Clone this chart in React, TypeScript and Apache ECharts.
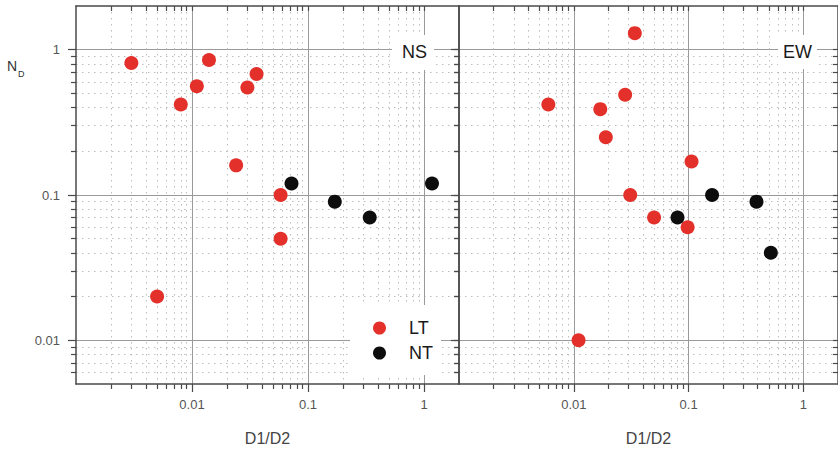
import React, { useEffect, useRef } from "react";
import * as echarts from "echarts";

// ---- data ----
const nsLT_x = [0.003, 0.008, 0.011, 0.014, 0.03, 0.036, 0.024, 0.058, 0.058, 0.005];
const nsLT_y = [0.81, 0.42, 0.56, 0.85, 0.55, 0.68, 0.16, 0.1, 0.05, 0.02];
const nsNT_x = [0.072, 0.17, 0.34, 1.17];
const nsNT_y = [0.12, 0.09, 0.07, 0.12];
const ewLT_x = [0.034, 0.006, 0.028, 0.017, 0.019, 0.106, 0.031, 0.05, 0.098, 0.011];
const ewLT_y = [1.3, 0.42, 0.49, 0.39, 0.25, 0.17, 0.1, 0.07, 0.06, 0.01];
const ewNT_x = [0.16, 0.39, 0.08, 0.52];
const ewNT_y = [0.1, 0.09, 0.07, 0.04];

const xTickLabels = [0.01, 0.1, 1];
const yTickLabels = [0.01, 0.1, 1];
const xDecades = [0.001, 0.01, 0.1];
const yDecades = [0.001, 0.01, 0.1];
const minorMultiples = [2, 3, 4, 5, 6, 7, 8, 9];
const X_MIN = 0.001, X_MAX = 2;
const Y_MIN = 0.005, Y_MAX = 2;
const panelNames = ["NS", "EW"];
const seriesNames = ["LT", "NT"];

const RED = "#e3302a";
const BLACK = "#0d0d0d";
const AXIS = "#4a4a4a";
const LABEL = "#555555";

function minorOf(decades: number[], lo: number, hi: number) {
  const out: number[] = [];
  decades.forEach((d) =>
    minorMultiples.forEach((m) => {
      const v = Number((m * d).toPrecision(3));
      if (v > lo && v < hi) out.push(v);
    })
  );
  return out;
}

const fmt = (v: number) => String(Number(v.toPrecision(3)));

export default function App() {
  const ref = useRef<HTMLDivElement>(null);
  useEffect(() => {
    if (!ref.current) return;
    const chart = echarts.init(ref.current, undefined, { renderer: "svg" });
    const minorX = minorOf(xDecades, X_MIN, X_MAX);
    const minorY = minorOf(yDecades, Y_MIN, Y_MAX);
    const grids = [
      { left: 76, top: 6, width: 383, height: 379 },
      { left: 459, top: 6, width: 383, height: 379 },
    ];
    const font = "Liberation Sans, Arial, sans-serif";
    const xAxes: any[] = [];
    const yAxes: any[] = [];
    grids.forEach((_, gi) => {
      const baseX = { type: "log", logBase: 10, min: X_MIN, max: X_MAX, gridIndex: gi };
      const baseY = { type: "log", logBase: 10, min: Y_MIN, max: Y_MAX, gridIndex: gi };
      // minor
      xAxes.push({
        ...baseX,
        position: "bottom",
        axisLine: { show: false },
        axisTick: { show: true, customValues: minorX, length: 5, lineStyle: { color: AXIS, width: 1.2 } },
        axisLabel: { show: false },
        splitLine: { show: true, lineStyle: { color: "#bdbdbd", width: 1, type: [1.5, 4.5] } },
      });
      // main
      xAxes.push({
        ...baseX,
        position: "bottom",
        name: "D1/D2",
        nameLocation: "middle",
        nameGap: 46,
        nameTextStyle: { color: "#444", fontSize: 16, fontFamily: font },
        axisLine: { show: true, lineStyle: { color: AXIS, width: 1.5 } },
        axisTick: { show: true, customValues: xTickLabels, length: 8, lineStyle: { color: AXIS, width: 1.2 } },
        axisLabel: {
          show: true,
          customValues: xTickLabels,
          formatter: fmt,
          margin: 14,
          color: LABEL,
          fontSize: 13,
          fontFamily: font,
        },
        splitLine: { show: true, lineStyle: { color: "#9a9a9a", width: 1 } },
      });
      // top frame
      xAxes.push({
        ...baseX,
        position: "top",
        axisLine: { show: true, lineStyle: { color: AXIS, width: 1.5 } },
        axisTick: { show: true, inside: true, customValues: minorX.concat(xTickLabels), length: 5, lineStyle: { color: AXIS, width: 1.2 } },
        axisLabel: { show: false },
        splitLine: { show: false },
      });
      yAxes.push({
        ...baseY,
        position: "left",
        axisLine: { show: false },
        axisTick: { show: true, customValues: minorY, length: 5, lineStyle: { color: AXIS, width: 1.2 } },
        axisLabel: { show: false },
        splitLine: { show: true, lineStyle: { color: "#bdbdbd", width: 1, type: [1.5, 4.5] } },
      });
      yAxes.push({
        ...baseY,
        position: "left",
        axisLine: { show: true, lineStyle: { color: AXIS, width: 1.5 } },
        axisTick: { show: true, customValues: yTickLabels, length: 8, lineStyle: { color: AXIS, width: 1.2 } },
        axisLabel: {
          show: gi === 0,
          customValues: yTickLabels,
          formatter: fmt,
          margin: 16,
          color: LABEL,
          fontSize: 13,
          fontFamily: font,
        },
        splitLine: { show: true, lineStyle: { color: "#9a9a9a", width: 1 } },
      });
      yAxes.push({
        ...baseY,
        position: "right",
        axisLine: { show: true, lineStyle: { color: AXIS, width: 1.5 } },
        axisTick: { show: true, inside: true, customValues: minorY.concat(yTickLabels), length: 5, lineStyle: { color: AXIS, width: 1.2 } },
        axisLabel: { show: false },
        splitLine: { show: false },
      });
    });

    const pairs = (xs: number[], ys: number[]) => xs.map((x, i) => [x, ys[i]]);
    const panelData = [
      [pairs(nsLT_x, nsLT_y), pairs(nsNT_x, nsNT_y)],
      [pairs(ewLT_x, ewLT_y), pairs(ewNT_x, ewNT_y)],
    ];
    const series: any[] = [];
    panelData.forEach((pd, gi) => {
      pd.forEach((d, si) => {
        series.push({
          type: "scatter",
          name: seriesNames[si],
          xAxisIndex: gi * 3 + 1,
          yAxisIndex: gi * 3 + 1,
          data: d,
          symbol: "circle",
          symbolSize: 14,
          itemStyle: { color: si === 0 ? RED : BLACK, opacity: 1 },
          emphasis: { disabled: true },
          z: 5,
        });
      });
    });

    chart.setOption({
      animation: false,
      backgroundColor: "#ffffff",
      grid: grids,
      xAxis: xAxes,
      yAxis: yAxes,
      series,
      title: [
        {
          text: panelNames[0],
          left: 392,
          top: 35,
          padding: [8, 7, 9, 10],
          backgroundColor: "#ffffff",
          textStyle: { fontSize: 18, fontWeight: "normal", color: "#1a1a1a", fontFamily: font },
        },
        {
          text: panelNames[1],
          left: 778,
          top: 35,
          padding: [8, 5, 8, 5],
          backgroundColor: "#ffffff",
          textStyle: { fontSize: 18, fontWeight: "normal", color: "#1a1a1a", fontFamily: font },
        },
      ],
      legend: {
        data: seriesNames,
        orient: "vertical",
        left: 350,
        top: 305,
        padding: [14, 8, 13, 23],
        backgroundColor: "#ffffff",
        itemGap: 7,
        itemWidth: 13,
        itemHeight: 13,
        icon: "circle",
        itemStyle: { opacity: 1 },
        textStyle: { fontSize: 18, color: "#1a1a1a", fontFamily: font, lineHeight: 18, padding: [0, 0, 0, 18] },
      },
      graphic: [
        { type: "text", left: 7, top: 59, style: { text: "N", fontSize: 14, fill: "#333", fontFamily: font } },
        { type: "text", left: 18, top: 69, style: { text: "D", fontSize: 9, fill: "#333", fontFamily: font } },
      ],
    });
    return () => chart.dispose();
  }, []);
  return (
    <div
      ref={ref}
      style={{ position: "absolute", left: 0, top: 0, width: 838, height: 451, background: "#fff" }}
    />
  );
}
